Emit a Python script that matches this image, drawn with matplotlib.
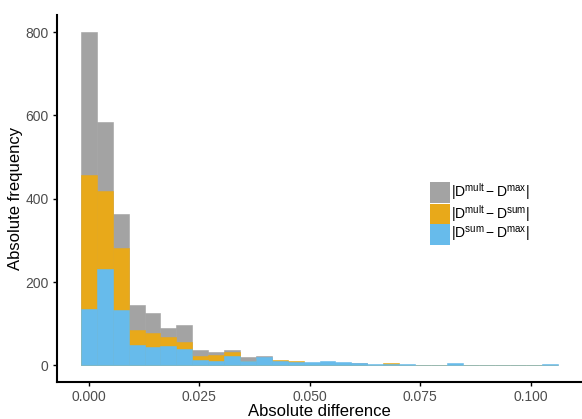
import numpy as np
import matplotlib
matplotlib.use("Agg")
import matplotlib.pyplot as plt
from matplotlib.patches import Patch

plt.rcParams['font.family'] = ['Liberation Sans', 'DejaVu Sans']
plt.rcParams['mathtext.fontset'] = 'custom'
plt.rcParams['mathtext.rm'] = 'Liberation Sans'
plt.rcParams['mathtext.it'] = 'Liberation Sans'

# histogram bin width and counts
bin_width = 0.0036
mult_max = [800, 584, 364, 144, 125, 89, 96, 36, 31, 36, 19, 22, 8, 5, 5,
            6, 4, 6, 2, 2, 2, 0, 0, 2, 0, 0, 0, 0, 0, 1]
mult_sum = [456, 419, 282, 85, 77, 67, 56, 22, 25, 31, 10, 15, 12, 10, 4,
            5, 3, 3, 2, 5, 2, 0, 0, 1, 0, 0, 0, 0, 0, 0]
sum_max = [136, 232, 132, 50, 44, 46, 40, 13, 10, 22, 11, 19, 10, 7, 7,
           10, 7, 5, 3, 3, 3, 0, 0, 5, 0, 0, 0, 0, 0, 3]
labels = [r'$|\mathrm{D^{mult} - D^{max}}|$',
          r'$|\mathrm{D^{mult} - D^{sum}}|$',
          r'$|\mathrm{D^{sum} - D^{max}}|$']
colors = ['#A3A3A3', '#E8A91A', '#67BBEB']

centers = np.arange(len(mult_max)) * bin_width

fig = plt.figure(figsize=(5.82, 4.19), dpi=100)
ax = fig.add_axes([57 / 582, 37 / 419, 525 / 582, 367 / 419])

for vals, c in zip([mult_max, mult_sum, sum_max], colors):
    ax.bar(centers, vals, width=bin_width, color=c,
           edgecolor=c, linewidth=0.4)

lo = centers[0] - bin_width / 2
hi = centers[-1] + bin_width / 2
pad = (hi - lo) * 0.05
ax.set_xlim(lo - pad, hi + pad)
ax.set_ylim(-40, 841)

ax.set_xticks([0, 0.025, 0.05, 0.075, 0.1])
ax.set_xticklabels(['0.000', '0.025', '0.050', '0.075', '0.100'])
ax.set_yticks([0, 200, 400, 600, 800])
ax.tick_params(axis='both', length=3, width=1, color='black',
               labelsize=10, labelcolor='#4D4D4D', pad=3)

for s in ['top', 'right']:
    ax.spines[s].set_visible(False)
for s in ['left', 'bottom']:
    ax.spines[s].set_linewidth(1.5)

ax.set_xlabel('Absolute difference', fontsize=12, labelpad=0)
ax.set_ylabel('Absolute frequency', fontsize=12, labelpad=2)

handles = [Patch(facecolor=c) for c in colors]
ax.legend(handles, labels, loc='center left', bbox_to_anchor=(0.70, 0.46),
          frameon=False, fontsize=10, handlelength=1.45, handleheight=1.9,
          handletextpad=0.05, labelspacing=0.0, borderaxespad=0)

fig.savefig('out.png', dpi=100)
